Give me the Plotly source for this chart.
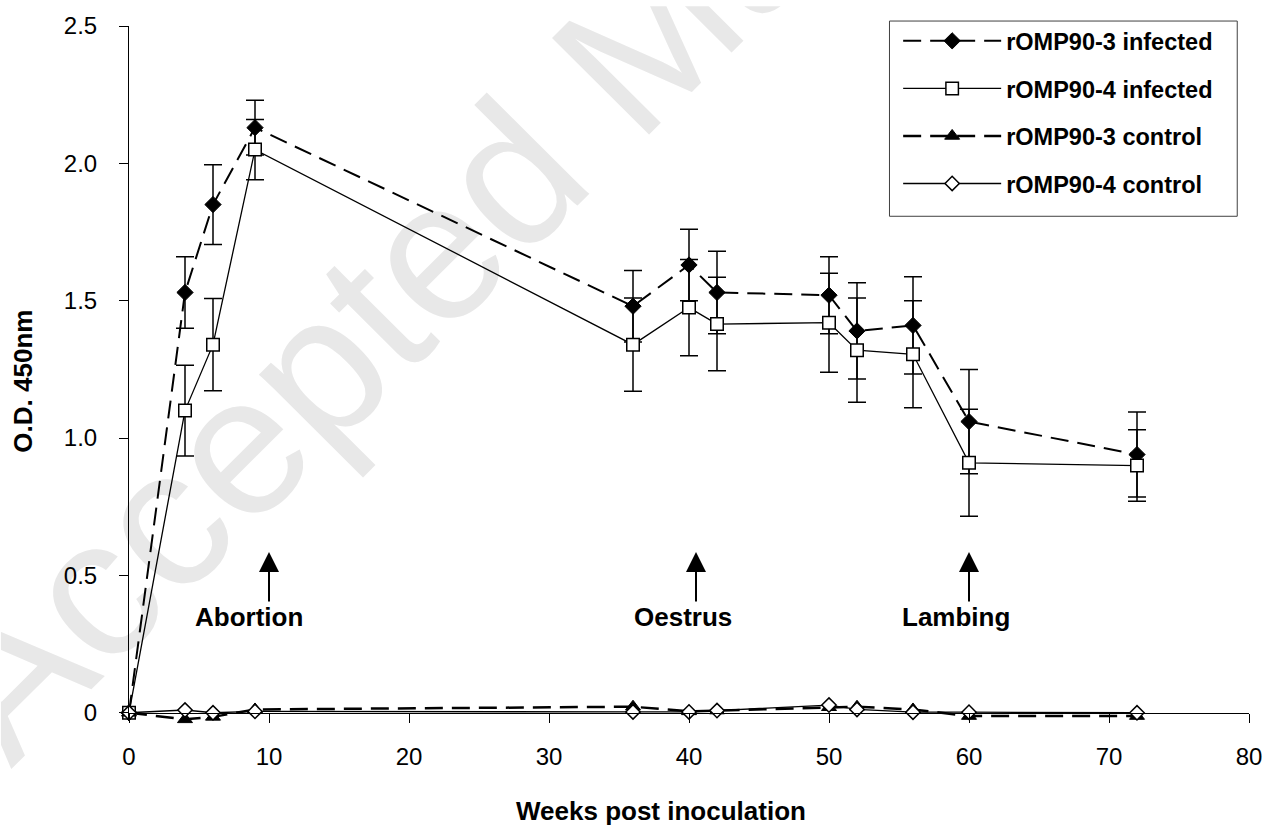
import base64
import plotly.graph_objects as go

# ---------------- data ----------------
weeks = [0, 4, 6, 9, 36, 40, 42, 50, 52, 56, 60, 72]

inf3 = [0.0, 1.53, 1.85, 2.13, 1.48, 1.63, 1.53, 1.52, 1.39, 1.41, 1.06, 0.94]
inf3_err = [None, 0.13, 0.145, 0.10, 0.13, 0.13, 0.15, 0.14, 0.175, 0.177, 0.19, 0.155]

inf4 = [0.0, 1.10, 1.34, 2.05, 1.34, 1.475, 1.415, 1.42, 1.32, 1.305, 0.91, 0.90]
inf4_err = [None, 0.165, 0.168, 0.11, 0.17, 0.175, 0.17, 0.18, 0.19, 0.195, 0.195, 0.13]

ctrl3 = [0.0, -0.024, -0.015, 0.012, 0.022, 0.005, 0.008, 0.02, 0.022, 0.012, -0.012, -0.012]
ctrl4 = [0.0, 0.01, 0.0, 0.005, 0.003, 0.003, 0.008, 0.028, 0.012, 0.002, 0.002, 0.0]

series_names = ["rOMP90-3 infected", "rOMP90-4 infected", "rOMP90-3 control", "rOMP90-4 control"]

y_tickvals = [0, 0.5, 1.0, 1.5, 2.0, 2.5]
y_ticktext = ["0", "0.5", "1.0", "1.5", "2.0", "2.5"]
x_tickvals = [0, 10, 20, 30, 40, 50, 60, 70, 80]

event_labels = ["Abortion", "Oestrus", "Lambing"]
event_weeks = [10, 40.5, 60]
event_label_x = [8.6, 39.6, 59.1]

FONT = "Liberation Sans, Arial, Helvetica, sans-serif"

# ---------------- geometry ----------------
W, H = 1274, 829
Y_TOP, Y_LOW = 2.5, -0.03          # y range (small pad below zero so low markers show)
PIX_TOP, PIX_ZERO = 20, 713        # pixel rows of y=2.5 and y=0
per_unit = (PIX_ZERO - PIX_TOP) / Y_TOP
PIX_BOTTOM = PIX_ZERO - Y_LOW * per_unit
L, R, T = 128.5, 21.5, PIX_TOP
B = H - PIX_BOTTOM
pw, ph = W - L - R, PIX_BOTTOM - T


def px_x(p):
    return (p - L) / pw


def px_y(p):
    return (PIX_BOTTOM - p) / ph


# ---------------- figure ----------------
fig = go.Figure()

fig.add_trace(go.Scatter(
    x=weeks, y=inf3, name=series_names[0], legendgroup="a", mode="lines+markers",
    line=dict(color="black", width=2, dash="18px,9px"),
    marker=dict(symbol="diamond", size=12.5, color="black", line=dict(color="black", width=1)),
    error_y=dict(type="data", array=inf3_err, visible=True, color="black", thickness=1.5, width=9),
    cliponaxis=False,
))
fig.add_trace(go.Scatter(
    x=weeks, y=inf4, name=series_names[1], legendgroup="b", mode="lines+markers",
    line=dict(color="black", width=1.3),
    marker=dict(symbol="square", size=12.5, color="white", line=dict(color="black", width=1.5)),
    error_y=dict(type="data", array=inf4_err, visible=True, color="black", thickness=1.5, width=9),
    cliponaxis=False,
))
fig.add_trace(go.Scatter(
    x=weeks, y=ctrl3, name=series_names[2], legendgroup="c", mode="lines+markers",
    line=dict(color="black", width=2.5, dash="18px,9px"),
    marker=dict(symbol="triangle-up", size=13, color="black", line=dict(color="black", width=1)),
    cliponaxis=False,
))
fig.add_trace(go.Scatter(
    x=weeks, y=ctrl4, name=series_names[3], legendgroup="d", mode="lines+markers",
    line=dict(color="black", width=1.3),
    marker=dict(symbol="diamond", size=11, color="white", line=dict(color="black", width=1.5)),
    cliponaxis=False,
))

# event arrows and labels
for lab, wk, lx in zip(event_labels, event_weeks, event_label_x):
    fig.add_annotation(
        x=wk, y=0.585, ax=wk, ay=0.40, xref="x", yref="y", axref="x", ayref="y",
        text="", showarrow=True, arrowhead=2, arrowsize=2, arrowwidth=2, arrowcolor="black",
    )
    fig.add_annotation(
        x=lx, y=0.41, xref="x", yref="y", text=lab, showarrow=False,
        xanchor="center", yanchor="top",
        font=dict(family=FONT, size=26, color="black", weight="bold"),
    )

# axis titles
fig.add_annotation(
    x=px_x(662), y=px_y(812), xref="paper", yref="paper",
    text="Weeks post inoculation", showarrow=False, xanchor="center", yanchor="middle",
    font=dict(family=FONT, size=26, color="black", weight="bold"),
)
fig.add_annotation(
    x=px_x(22), y=px_y(378), xref="paper", yref="paper",
    text="O.D. 450nm", showarrow=False, textangle=-90, xanchor="center", yanchor="middle",
    font=dict(family=FONT, size=26, color="black", weight="bold"),
)

# legend frame
fig.add_shape(
    type="rect", xref="paper", yref="paper",
    x0=px_x(891.7), x1=px_x(1240.7), y0=px_y(212), y1=px_y(15),
    fillcolor="white", line=dict(color="#404040", width=1), layer="above",
)

# faint watermark
wx, wy = 10, 770
svg = (
    f'<svg xmlns="http://www.w3.org/2000/svg" width="{W}" height="{H}">'
    f'<text x="{wx}" y="{wy}" transform="rotate(-45 {wx} {wy})" '
    f'font-family="Liberation Sans, Arial, sans-serif" font-size="200" fill="#e8e8e8">'
    f'Accepted Manuscript</text></svg>'
)
src = "data:image/svg+xml;base64," + base64.b64encode(svg.encode()).decode()
fig.add_layout_image(
    source=src, xref="paper", yref="paper", x=px_x(0), y=px_y(0),
    sizex=W / pw, sizey=H / ph, xanchor="left", yanchor="top",
    sizing="stretch", layer="below",
)

fig.update_layout(
    width=W, height=H,
    margin=dict(l=L, r=R, t=T, b=B, pad=0),
    paper_bgcolor="white", plot_bgcolor="rgba(0,0,0,0)",
    font=dict(family=FONT, color="black"),
    showlegend=True,
    legend=dict(
        x=px_x(900.4), y=px_y(13), xanchor="left", yanchor="top",
        bgcolor="rgba(0,0,0,0)", borderwidth=0,
        font=dict(family=FONT, size=23.5, color="black", weight="bold"),
        itemwidth=98, tracegroupgap=14, traceorder="grouped",
    ),
    xaxis=dict(
        range=[0, 80], tickvals=x_tickvals, ticks="outside", ticklen=9, tickwidth=1,
        tickcolor="black", showline=True, linecolor="black", linewidth=1,
        showgrid=False, zeroline=False, tickfont=dict(family=FONT, size=24, color="black"),
        ticklabelstandoff=13, anchor="free", position=px_y(PIX_ZERO),
    ),
    yaxis=dict(
        range=[Y_LOW, Y_TOP], tickvals=y_tickvals, ticktext=y_ticktext, ticks="outside", ticklen=9,
        tickwidth=1, tickcolor="black", showline=True, linecolor="black", linewidth=1,
        showgrid=False, zeroline=False, tickfont=dict(family=FONT, size=24, color="black"),
        ticklabelstandoff=17,
    ),
)

fig.write_html(
    "out.html",
    config={"displayModeBar": False},
    post_script="document.body.style.margin='0';document.body.style.overflow='hidden';",
)
